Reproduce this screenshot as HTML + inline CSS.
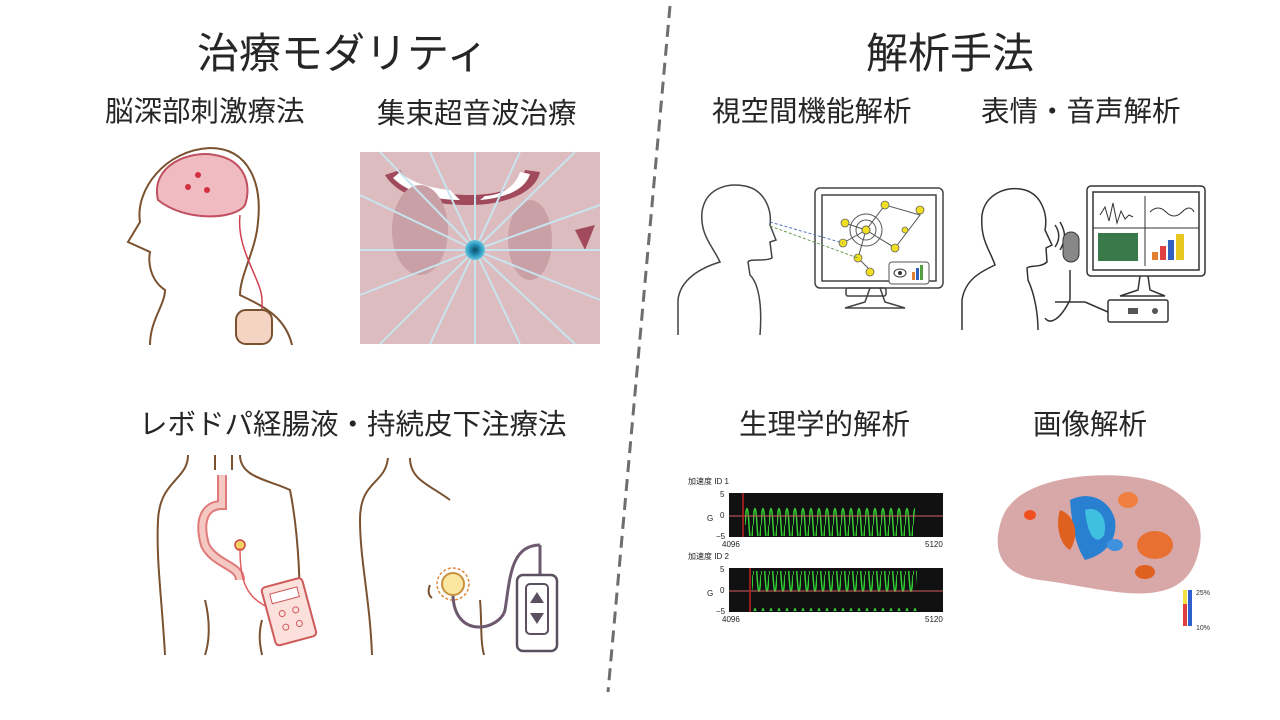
<!DOCTYPE html>
<html><head><meta charset="utf-8">
<style>
html,body{margin:0;padding:0;background:#fff;}
body{width:1280px;height:720px;position:relative;overflow:hidden;font-family:"Liberation Sans","Noto Sans CJK JP",sans-serif;color:#262626;}
.t{position:absolute;white-space:nowrap;}
.h{font-size:42px;}
.s{font-size:28.5px;}
</style></head><body>
<div class="t h" style="left:197px;top:20px;">治療モダリティ</div>
<div class="t h" style="left:866px;top:20px;">解析手法</div>
<div class="t s" style="left:105px;top:89px;">脳深部刺激療法</div>
<div class="t s" style="left:377px;top:91px;">集束超音波治療</div>
<div class="t s" style="left:712px;top:89px;">視空間機能解析</div>
<div class="t s" style="left:981px;top:89px;">表情・音声解析</div>
<div class="t s" style="left:139px;top:402px;">レボドパ経腸液・持続皮下注療法</div>
<div class="t s" style="left:739px;top:402px;">生理学的解析</div>
<div class="t s" style="left:1033px;top:402px;">画像解析</div>

<svg width="1280" height="720" style="position:absolute;left:0;top:0">
<defs>
<pattern id="sine" x="745" y="0" width="8" height="50" patternUnits="userSpaceOnUse">
<path d="M0 25 Q2 -8 4 25 T8 25" fill="none" stroke="#3c3" stroke-width="1.5"/>
</pattern>
<radialGradient id="foc"><stop offset="0" stop-color="#0a4a66"/><stop offset="0.6" stop-color="#2a9ac0"/><stop offset="1" stop-color="#6cc4dc"/></radialGradient>
</defs>
<line x1="670" y1="6" x2="608" y2="692" stroke="#6e6e6e" stroke-width="3" stroke-dasharray="12,7"/>

<g fill="none" stroke="#7a5230" stroke-width="2">
<path d="M150 345 C150 320 165 305 165 290 C150 280 148 262 150 252 L128 242 L140 222 C135 190 165 150 210 148 C250 148 262 185 258 222 C256 250 240 275 240 295 C260 305 285 315 292 345"/>
</g>
<path d="M158 200 C150 165 190 150 215 155 C245 160 252 185 245 205 C235 220 185 222 158 200Z" fill="#f1bcc1" stroke="#c05060" stroke-width="2"/>
<path d="M240 215 C236 250 262 280 262 300 L262 320" fill="none" stroke="#d04050" stroke-width="1.5"/>
<rect x="236" y="310" width="36" height="34" rx="10" fill="#f6d4c4" stroke="#7a5230" stroke-width="2"/>
<circle cx="188" cy="187" r="3" fill="#d03040"/><circle cx="207" cy="190" r="3" fill="#d03040"/><circle cx="198" cy="175" r="3" fill="#d03040"/>

<rect x="360" y="152" width="240" height="192" fill="#dcbcbe"/>
<path d="M385 175 C400 200 440 205 470 205 C500 205 535 195 540 172 L525 170 C520 190 495 195 470 195 C445 195 412 190 400 170Z" fill="#a04a5c"/>
<path d="M393 178 C410 195 440 200 460 200 L450 190 C430 188 410 182 400 172Z" fill="#fff"/>
<path d="M480 200 C505 198 525 190 530 174 L520 172 C515 188 500 195 485 196Z" fill="#fff"/>
<ellipse cx="420" cy="230" rx="28" ry="45" fill="#c9a0a5"/>
<ellipse cx="530" cy="240" rx="22" ry="40" fill="#c9a0a5"/>
<path d="M575 230 L595 225 L585 250 Z" fill="#a04a5c"/>
<g stroke="#c8e4ee" stroke-width="2">
<line x1="475" y1="250" x2="360" y2="250"/><line x1="475" y1="250" x2="600" y2="250"/>
<line x1="475" y1="250" x2="475" y2="152"/><line x1="475" y1="250" x2="475" y2="344"/>
<line x1="475" y1="250" x2="380" y2="152"/><line x1="475" y1="250" x2="430" y2="152"/>
<line x1="475" y1="250" x2="520" y2="152"/><line x1="475" y1="250" x2="575" y2="152"/>
<line x1="475" y1="250" x2="360" y2="195"/><line x1="475" y1="250" x2="600" y2="205"/>
<line x1="475" y1="250" x2="360" y2="295"/><line x1="475" y1="250" x2="600" y2="300"/>
<line x1="475" y1="250" x2="380" y2="344"/><line x1="475" y1="250" x2="430" y2="344"/>
<line x1="475" y1="250" x2="520" y2="344"/><line x1="475" y1="250" x2="575" y2="344"/>
</g>
<circle cx="475" cy="250" r="10" fill="url(#foc)"/>

<g fill="none" stroke="#7a5230" stroke-width="2">
<path d="M188 455 C188 480 160 480 158 520 C156 560 162 600 165 655"/>
<path d="M240 455 C240 478 270 480 290 490 C300 540 300 600 300 610"/>
<path d="M215 455 L215 470"/><path d="M232 455 L232 470"/>
<path d="M205 600 C210 620 210 640 205 655"/><path d="M262 620 C258 635 260 645 262 655"/>
</g>
<path d="M222 475 L222 505 C205 505 198 520 205 545 C215 565 240 565 240 580" fill="none" stroke="#e07a7a" stroke-width="10"/>
<path d="M222 475 L222 505 C205 505 198 520 205 545 C215 565 240 565 240 580" fill="none" stroke="#f6c8c2" stroke-width="6"/>
<circle cx="240" cy="545" r="5" fill="#f6d060" stroke="#c44" stroke-width="1.5"/>
<path d="M240 548 C240 580 245 600 275 610" fill="none" stroke="#e06060" stroke-width="1.5"/>
<g transform="rotate(-15 288 612)">
<rect x="268" y="582" width="42" height="60" rx="4" fill="#fbe0dc" stroke="#d05a5a" stroke-width="2"/>
<rect x="275" y="590" width="28" height="10" fill="#fff" stroke="#d05a5a"/>
<circle cx="282" cy="612" r="3" fill="none" stroke="#d05a5a"/><circle cx="296" cy="612" r="3" fill="none" stroke="#d05a5a"/>
<circle cx="282" cy="626" r="3" fill="none" stroke="#d05a5a"/><circle cx="296" cy="626" r="3" fill="none" stroke="#d05a5a"/>
</g>
<g fill="none" stroke="#7a5230" stroke-width="2">
<path d="M388 458 C385 485 360 480 360 520 C360 560 370 600 372 655"/>
<path d="M410 458 C410 480 430 485 450 500"/>
<path d="M480 600 C482 620 480 640 484 655"/>
<path d="M430 585 C428 590 428 595 432 598"/>
</g>
<circle cx="453" cy="584" r="11" fill="#fbe6a0" stroke="#c59040" stroke-width="2"/>
<circle cx="453" cy="584" r="16" fill="none" stroke="#e08a40" stroke-width="1.5" stroke-dasharray="3,2"/>
<path d="M453 596 C455 640 500 630 505 610 C510 580 510 545 540 545" fill="none" stroke="#6e5a6e" stroke-width="3"/>
<path d="M540 545 L540 575" stroke="#6e5a6e" stroke-width="3"/>
<rect x="517" y="575" width="40" height="76" rx="6" fill="#fff" stroke="#5a5060" stroke-width="2.5"/>
<rect x="526" y="584" width="22" height="50" rx="4" fill="#fff" stroke="#5a5060" stroke-width="2"/>
<path d="M530 603 L537 592 L544 603Z M530 613 L537 624 L544 613Z" fill="#5a5060"/>

<g fill="none" stroke="#444" stroke-width="1.5">
<path d="M678 335 L678 300 C680 280 700 268 720 262 C712 245 700 235 702 212 C705 190 725 182 745 186 C765 190 772 210 770 225 L776 240 L770 242 L772 258 C765 262 750 258 748 262 L750 275 C760 285 762 310 760 335"/>
<rect x="815" y="188" width="128" height="100" rx="5"/>
<rect x="822" y="195" width="114" height="86"/>
<path d="M870 288 L865 302 L845 308 L905 308 L885 302 L880 288"/>
<rect x="846" y="288" width="40" height="8" rx="2"/>
</g>
<g stroke="#555" stroke-width="1" fill="none">
<circle cx="866" cy="230" r="16"/><circle cx="866" cy="230" r="10"/><circle cx="866" cy="230" r="4"/>
<path d="M843 243 L866 230 L885 205 L920 215 L895 248 L866 230 L858 258 L870 270 M866 230 L845 223"/>
</g>
<g fill="#f2de20" stroke="#666" stroke-width="0.8">
<circle cx="866" cy="230" r="4"/><circle cx="885" cy="205" r="4"/><circle cx="920" cy="210" r="4"/><circle cx="895" cy="248" r="4"/>
<circle cx="843" cy="243" r="4"/><circle cx="858" cy="258" r="4"/><circle cx="870" cy="272" r="4"/><circle cx="845" cy="223" r="4"/><circle cx="905" cy="230" r="3"/>
</g>
<line x1="770" y1="222" x2="843" y2="243" stroke="#5a78c0" stroke-dasharray="3,2"/>
<line x1="770" y1="226" x2="858" y2="258" stroke="#6a9a50" stroke-dasharray="3,2"/>
<rect x="889" y="262" width="40" height="22" rx="3" fill="#fff" stroke="#555"/>
<ellipse cx="900" cy="273" rx="6" ry="4" fill="none" stroke="#333"/><circle cx="900" cy="273" r="2" fill="#333"/>
<rect x="912" y="272" width="3" height="8" fill="#e08030"/><rect x="916" y="268" width="3" height="12" fill="#3060c0"/><rect x="920" y="265" width="3" height="15" fill="#50a040"/>

<g fill="none" stroke="#333" stroke-width="1.5">
<path d="M962 330 L962 300 C965 280 980 272 995 265 C990 250 980 240 982 215 C985 195 1005 185 1025 190 C1042 195 1048 215 1045 230 L1052 245 L1046 248 L1047 262 C1040 268 1030 265 1027 268 L1028 280 C1035 295 1038 315 1038 330"/>
<rect x="1087" y="186" width="118" height="90" rx="4"/>
<rect x="1093" y="192" width="106" height="78"/>
<path d="M1140 276 L1138 290 L1120 296 L1165 296 L1150 290 L1148 276"/>
<rect x="1108" y="300" width="60" height="22" rx="2"/>
<path d="M1070 270 L1070 300 M1055 302 L1085 302 M1070 300 C1060 320 1050 325 1045 318 M1085 302 L1108 312"/>
<path d="M1055 225 C1060 232 1060 240 1055 247 M1060 222 C1066 232 1066 240 1060 250"/>
</g>
<rect x="1063" y="232" width="16" height="30" rx="8" fill="#888" stroke="#333"/>
<path d="M1100 215 l5 -8 l4 14 l4 -18 l4 20 l4 -12 l4 8 l4 -4 l4 2" fill="none" stroke="#333"/>
<path d="M1150 212 q8 -8 16 0 t16 0 t12 0" fill="none" stroke="#333"/>
<line x1="1145" y1="196" x2="1145" y2="266" stroke="#333"/>
<line x1="1093" y1="228" x2="1199" y2="228" stroke="#333"/>
<rect x="1098" y="233" width="40" height="28" fill="#3a7a4a"/>
<rect x="1152" y="252" width="6" height="8" fill="#e08030"/><rect x="1160" y="246" width="6" height="14" fill="#e04040"/>
<rect x="1168" y="240" width="6" height="20" fill="#3060c0"/><rect x="1176" y="234" width="8" height="26" fill="#e8c820"/>
<rect x="1128" y="308" width="10" height="6" fill="#555"/><circle cx="1155" cy="311" r="3" fill="#555"/>

<g font-family="'Liberation Sans','Noto Sans CJK JP',sans-serif" font-size="8" fill="#222">
<text x="688" y="484">加速度 ID 1</text>
<text x="688" y="559">加速度 ID 2</text>
<text x="720" y="497">5</text><text x="720" y="518">0</text><text x="716" y="539">−5</text>
<text x="720" y="572">5</text><text x="720" y="593">0</text><text x="716" y="614">−5</text>
<text x="707" y="521">G</text><text x="707" y="596">G</text>
<text x="722" y="547">4096</text><text x="925" y="547">5120</text>
<text x="722" y="622">4096</text><text x="925" y="622">5120</text>
</g>
<rect x="729" y="493" width="214" height="44" fill="#111"/>
<rect x="729" y="568" width="214" height="44" fill="#111"/>
<rect x="745" y="491" width="170" height="50" fill="url(#sine)" style="clip-path:inset(5px 0 5px 0)"/>
<rect x="752" y="566" width="165" height="50" fill="url(#sine)" style="clip-path:inset(5px 0 5px 0)"/>
<line x1="729" y1="516" x2="943" y2="516" stroke="#d06060" stroke-width="1"/>
<line x1="729" y1="591" x2="943" y2="591" stroke="#d06060" stroke-width="1"/>
<line x1="743" y1="493" x2="743" y2="537" stroke="#c02020" stroke-width="1.5"/>
<line x1="750" y1="568" x2="750" y2="612" stroke="#c02020" stroke-width="1.5"/>

<path d="M1010 505 C1030 480 1090 470 1140 478 C1180 485 1205 510 1200 545 C1195 575 1180 590 1150 593 C1120 596 1080 585 1040 580 C1010 576 995 560 998 535 C1000 520 1005 510 1010 505Z" fill="#d8a8a8"/>
<path d="M1070 500 C1090 490 1110 500 1115 520 C1118 540 1105 555 1085 560 C1075 545 1072 525 1070 500Z" fill="#2a80d0"/>
<path d="M1085 510 C1100 505 1108 520 1104 535 C1098 545 1088 540 1085 510Z" fill="#40c0e0"/>
<path d="M1060 510 C1075 515 1080 535 1070 550 C1060 545 1055 525 1060 510Z" fill="#e06020"/>
<ellipse cx="1155" cy="545" rx="18" ry="14" fill="#e87030"/>
<ellipse cx="1128" cy="500" rx="10" ry="8" fill="#f08040"/>
<ellipse cx="1145" cy="572" rx="10" ry="7" fill="#e06020"/>
<ellipse cx="1030" cy="515" rx="6" ry="5" fill="#f05020"/>
<ellipse cx="1115" cy="545" rx="8" ry="6" fill="#4090e0"/>
<rect x="1183" y="590" width="4" height="36" fill="#e04040"/>
<rect x="1183" y="590" width="4" height="14" fill="#f0e040"/>
<rect x="1188" y="590" width="4" height="36" fill="#3060d0"/>
<text x="1196" y="595" font-size="7" fill="#333">25%</text>
<text x="1196" y="630" font-size="7" fill="#333">10%</text>
</svg>
</body></html>
